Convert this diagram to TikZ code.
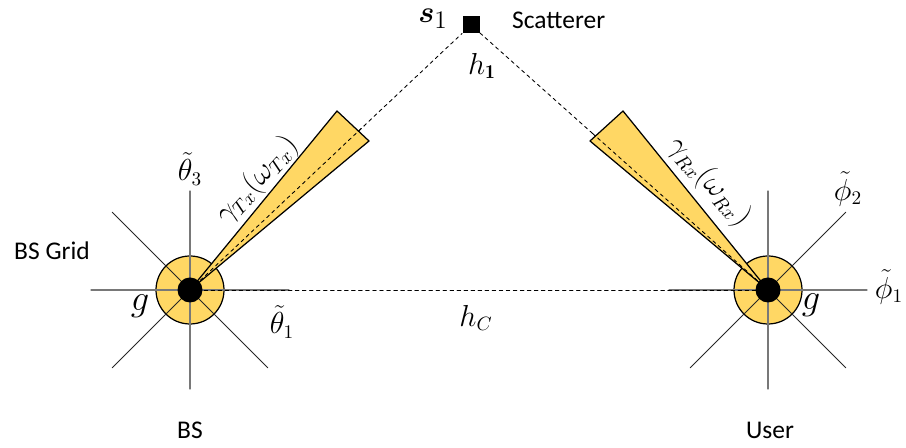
\documentclass[tikz,border=0pt]{standalone}
\usepackage{fontspec}
\setsansfont{Carlito}
\usepackage{amsmath}
\usepackage{tikz}
\usetikzlibrary{positioning,calc}
\definecolor{beamYellow}{RGB}{255,215,100}
\definecolor{gridGray}{RGB}{120,120,120}
\newcommand{\bigmath}[1]{\fontsize{#1}{#1}\selectfont}

\begin{document}
\begin{tikzpicture}[x=0.02cm,y=-0.02cm,line cap=round,
  axisln/.style={gridGray,line width=0.6pt},
  diagln/.style={black!85,line width=0.5pt},
  path/.style={dashed,dash pattern=on 2pt off 2pt,line width=0.5pt},
  beam/.style={fill=beamYellow,draw=black,line width=0.7pt,line join=round},
  lbl/.style={font=\sffamily\fontsize{14.5}{16}\selectfont},
  mlbl/.style={font=\bigmath{16}}]
  \useasboundingbox (0,0) rectangle (906,448);
  % BS and user positions, scatterer
  \coordinate (bs) at (190,290);
  \coordinate (ue) at (768,290);
  \node[fill=black,minimum size=0.34cm,inner sep=0pt] (s1) at (471,25) {};
  % antenna grids: ring, then the eight directions
  \foreach \c in {bs,ue} {
    \fill[beamYellow] (\c) circle (34);
    \draw[line width=0.7pt] (\c) circle (34);
    \foreach \a in {0,90,180,270}
      \draw[axisln] (\c) -- ++(\a:99);
    \foreach \a in {45,135,225,315}
      \draw[diagln] (\c) -- ++(\a:110);
  }
  % links: direct path and via the scatterer
  \draw[path] (bs) -- (ue);
  \draw[path] (bs) -- (s1);
  \draw[path] (s1) -- (ue);
  % beams
  \draw[beam] (bs) -- (337,111) -- (369,141) -- cycle;
  \draw[beam] (ue) -- (623,111) -- (590,141) -- cycle;
  \draw[path] (bs) -- ($(bs)!0.62!(s1)$);
  \draw[path] (ue) -- ($(ue)!0.6!(s1)$);
  \fill (bs) circle (12.5);
  \fill (ue) circle (12.5);
  % labels
  \node[font=\bigmath{19}] (s1lbl) at (433,19) {$\boldsymbol{s}_1$};
  \node[lbl,anchor=west] (scat) at (506,20) {Scatterer};
  \node[mlbl] (h1) at (482,66) {$h_{\mathbf{1}}$};
  \node[mlbl] (hc) at (476,318) {$h_C$};
  \node[mlbl] (th3) at (190,169) {$\tilde{\theta}_3$};
  \node[mlbl] (th1) at (282,322) {$\tilde{\theta}_1$};
  \node[mlbl] (ph2) at (848,189) {$\tilde{\phi}_2$};
  \node[mlbl] (ph1) at (889,287) {$\tilde{\phi}_1$};
  \node[font=\bigmath{20}] (gbs) at (140,306) {$g$};
  \node[font=\bigmath{20}] (gue) at (811,305) {$g$};
  \node[font=\bigmath{16},rotate=48] (gtx) at (257,180) {$\gamma_{Tx}(\omega_{Tx})$};
  \node[font=\bigmath{16},rotate=-48] (grx) at (709,182) {$\gamma_{Rx}(\omega_{Rx})$};
  \node[lbl] (grid) at (52,251) {BS Grid};
  \node[lbl] (bslbl) at (190,430) {BS};
  \node[lbl] (uelbl) at (770,430) {User};
\end{tikzpicture}
\end{document}
